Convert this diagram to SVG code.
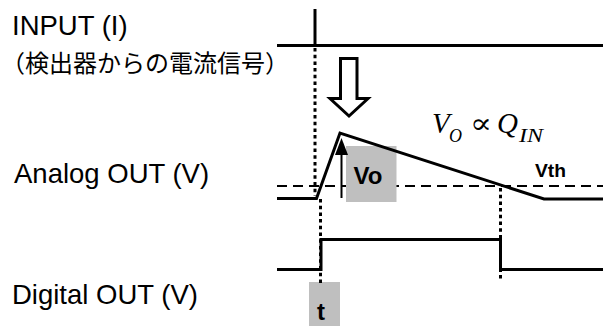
<svg xmlns="http://www.w3.org/2000/svg" width="603" height="326" viewBox="0 0 603 326">
<defs>
<style>
.lbl{font-family:"Liberation Sans",Arial,sans-serif;font-size:27.5px;fill:#000}
.jp{font-family:"Liberation Sans","Noto Sans CJK JP",sans-serif;font-size:24px;fill:#000}
.b{font-family:"Liberation Sans",Arial,sans-serif;font-weight:bold;fill:#000}
.m{font-family:"Liberation Serif","Times New Roman","DejaVu Serif",serif;font-style:italic;fill:#000}
.w{fill:none;stroke:#000;stroke-width:3}
.dot{fill:none;stroke:#000;stroke-width:3;stroke-dasharray:3.5 3.2}
.dash{fill:none;stroke:#000;stroke-width:2;stroke-dasharray:10 6}
.gray{fill:#bfbfbf}
</style>
<marker id="ah" markerWidth="17" markerHeight="13" refX="0" refY="6.5" orient="auto" markerUnits="userSpaceOnUse" viewBox="0 0 17 13">
<path d="M0,0 L17,6.5 L0,13 Z" fill="#000"/>
</marker>
</defs>
<g id="labels">
<text class="lbl" x="12" y="35">INPUT (I)</text>
<text class="jp" x="1" y="72">（検出器からの電流信号）</text>
<text class="lbl" x="14" y="183">Analog OUT (V)</text>
<text class="lbl" x="12" y="304">Digital OUT (V)</text>
</g>
<g id="input-signal">
<line class="w" x1="277" y1="45.5" x2="603" y2="45.5"/>
<line class="w" x1="315" y1="9" x2="315" y2="46"/>
</g>
<g id="hollow-arrow">
<path d="M340.5,58.5 H357 V98.5 H368 L349,116 L330,98.5 H340.5 Z" fill="#fff" stroke="#000" stroke-width="3" stroke-linejoin="miter"/>
</g>
<g id="formula">
<text class="m" x="432" y="133" font-size="29">V</text>
<text class="m" x="449" y="142" font-size="18">O</text>
<text x="470" y="133" font-size="28" font-family="Liberation Serif,'DejaVu Serif',serif" textLength="22" lengthAdjust="spacingAndGlyphs">∝</text>
<text class="m" x="497" y="133" font-size="29">Q</text>
<text class="m" x="519" y="142" font-size="18" textLength="24" lengthAdjust="spacingAndGlyphs">IN</text>
</g>
<g id="vth-line">
<line class="dash" x1="277" y1="186" x2="603" y2="186"/>
<text class="b" x="535" y="177" font-size="18" textLength="31" lengthAdjust="spacingAndGlyphs">Vth</text>
</g>
<g id="vo-box">
<rect class="gray" x="346" y="146" width="50.5" height="56"/>
<text class="b" x="353.5" y="184" font-size="24">Vo</text>
</g>
<g id="analog-signal">
<polyline class="w" points="277,198.5 316.5,198.5 340,133 544,199 603,199" stroke-linejoin="miter"/>
</g>
<g id="digital-signal">
<polyline class="w" points="277,269.5 321,269.5 321,239.5 500.5,239.5 500.5,269.5 603,269.5"/>
</g>
<g id="t-box">
<rect class="gray" x="309" y="282" width="31" height="44"/>
<text class="b" x="317" y="320" font-size="24">t</text>
</g>
<g id="connectors">
<line class="dot" x1="315" y1="48" x2="315" y2="196"/>
<line class="dot" x1="320.5" y1="199" x2="320.5" y2="283"/>
<line class="dot" x1="500.5" y1="188" x2="500.5" y2="279"/>
<line x1="341.5" y1="198" x2="341.5" y2="155" stroke="#000" stroke-width="2" marker-end="url(#ah)"/>
</g>
</svg>
